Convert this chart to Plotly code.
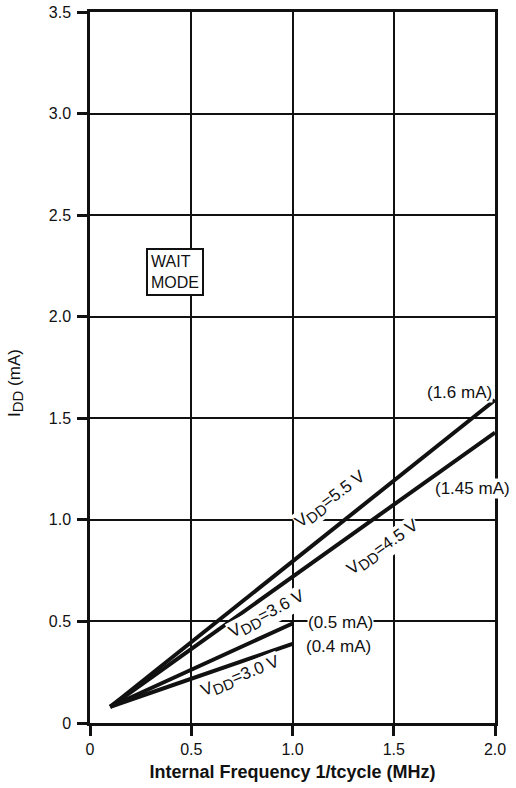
import plotly.graph_objects as go

# Data (IDD in mA vs internal frequency in MHz)
freq_high = [0.1, 2.0]
idd_55 = [0.08, 1.59]
idd_45 = [0.08, 1.43]
freq_low = [0.1, 1.0]
idd_36 = [0.08, 0.49]
idd_30 = [0.08, 0.39]

x_ticks = [0, 0.5, 1.0, 1.5, 2.0]
x_tick_text = ["0", "0.5", "1.0", "1.5", "2.0"]
y_ticks = [0, 0.5, 1.0, 1.5, 2.0, 2.5, 3.0, 3.5]
y_tick_text = ["0", "0.5", "1.0", "1.5", "2.0", "2.5", "3.0", "3.5"]

FONT = "Liberation Sans, Arial, Helvetica, sans-serif"
INK = "#111111"
SUB = "<sub><span style='font-size:15px'>DD</span></sub>"

fig = go.Figure()
for xs, ys in [(freq_high, idd_55), (freq_high, idd_45), (freq_low, idd_36), (freq_low, idd_30)]:
    fig.add_trace(go.Scatter(x=xs, y=ys, mode="lines",
                             line=dict(color=INK, width=4),
                             showlegend=False, hoverinfo="skip"))

ann_font = dict(family=FONT, size=17, color=INK)
annotations = [
    dict(x=1.19, y=1.10, text="V" + SUB + "=5.5 V", textangle=-37),
    dict(x=1.45, y=0.86, text="V" + SUB + "=4.5 V", textangle=-35),
    dict(x=0.875, y=0.53, text="V" + SUB + "=3.6 V", textangle=-28),
    dict(x=0.745, y=0.228, text="V" + SUB + "=3.0 V", textangle=-22),
    dict(x=1.827, y=1.626, text="(1.6 mA)", textangle=0),
    dict(x=1.89, y=1.153, text="(1.45 mA)", textangle=0),
    dict(x=1.235, y=0.494, text="(0.5 mA)", textangle=0),
    dict(x=1.225, y=0.379, text="(0.4 mA)", textangle=0),
]
for a in annotations:
    fig.add_annotation(xref="x", yref="y", showarrow=False, font=ann_font,
                       bgcolor="white", borderpad=0, **a)

fig.add_annotation(xref="x", yref="y", x=0.42, y=2.22, text="WAIT<br>MODE",
                   showarrow=False, align="left",
                   font=dict(family=FONT, size=16, color=INK),
                   bgcolor="white", bordercolor=INK, borderwidth=2, borderpad=3)

fig.add_annotation(xref="paper", yref="paper", x=-0.183, y=0.478,
                   xanchor="center", yanchor="middle",
                   text="I" + SUB + " (mA)", textangle=-90, showarrow=False,
                   font=dict(family=FONT, size=17, color=INK))

axis_common = dict(showline=True, linecolor=INK, linewidth=2.5, mirror=True,
                   showgrid=True, gridcolor=INK, gridwidth=2.2,
                   ticks="outside", ticklen=10, tickwidth=2.5, tickcolor=INK,
                   zeroline=False, automargin=False,
                   tickfont=dict(family=FONT, size=16, color=INK))

fig.update_xaxes(range=[0, 2.0], tickvals=x_ticks, ticktext=x_tick_text,
                 title=dict(text="Internal Frequency 1/tcycle (MHz)",
                            font=dict(family=FONT, size=18, color=INK, weight="bold"),
                            standoff=9),
                 **axis_common)
fig.update_yaxes(range=[0, 3.5], tickvals=y_ticks, ticktext=y_tick_text,
                 ticklabelstandoff=3, **axis_common)

fig.update_layout(width=516, height=788,
                  margin=dict(l=90, r=21, t=12, b=65),
                  paper_bgcolor="white", plot_bgcolor="white",
                  font=dict(family=FONT, color=INK))

# remove the default 8px body margin so the figure fills the window exactly
fig.write_html("out.html", config={"displayModeBar": False},
               post_script="document.body.style.margin='0';")
